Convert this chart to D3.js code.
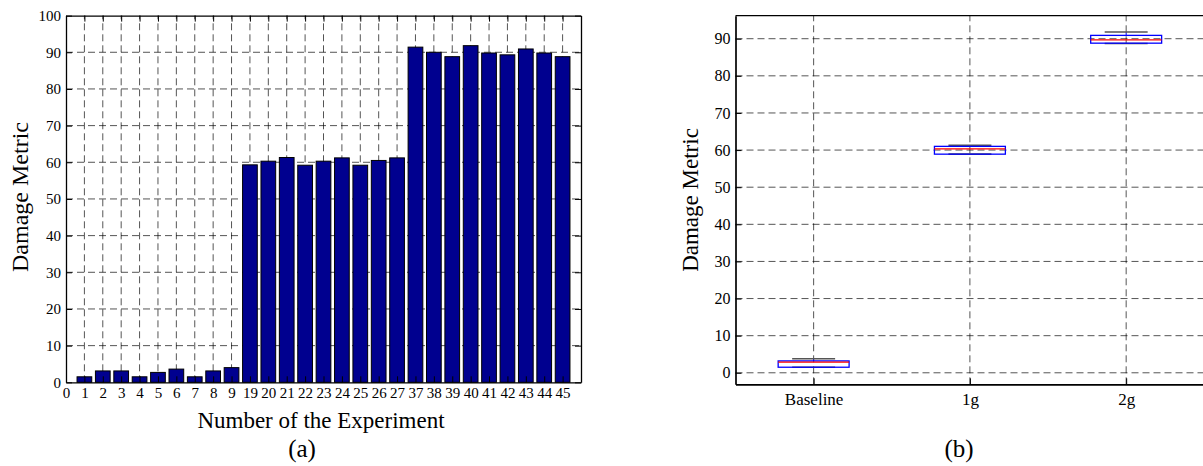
<!DOCTYPE html>
<html>
<head>
<meta charset="utf-8">
<script src="https://cdn.jsdelivr.net/npm/d3@7"></script>
<style>
  body { margin: 0; background: #fff; }
  svg text { font-family: "Liberation Serif", "Times New Roman", serif; fill: #000; }
</style>
</head>
<body>
<svg width="1203" height="466"></svg>
<script>
// (a) bar chart data
var experiments = ["1","2","3","4","5","6","7","8","9",
  "19","20","21","22","23","24","25","26","27",
  "37","38","39","40","41","42","43","44","45"];
var damage = [1.5, 3.1, 3.1, 1.5, 2.7, 3.6, 1.5, 3.1, 4.0,
  59.3, 60.3, 61.3, 59.2, 60.3, 61.2, 59.2, 60.5, 61.2,
  91.4, 90.0, 88.8, 91.8, 89.8, 89.3, 90.9, 89.8, 88.8];
var yTicksA = [0, 10, 20, 30, 40, 50, 60, 70, 80, 90, 100];

// (b) box plot data
var groups = ["Baseline", "1g", "2g"];
var whiskerLow = [1.5, 58.9, 88.7];
var q1 = [1.5, 58.9, 88.8];
var median = [2.9, 60.3, 89.7];
var q3 = [3.2, 61.0, 90.9];
var whiskerHigh = [3.8, 61.3, 91.8];
var yTicksB = [0, 10, 20, 30, 40, 50, 60, 70, 80, 90];

var svg = d3.select("svg");
var serif = "'Liberation Serif', 'Times New Roman', serif";

function styleTicks(size) {
  return function(g) {
    g.attr("font-family", serif);
    g.selectAll("text").style("font-family", serif).style("font-size", size);
  };
}

function dashed(sel) {
  sel.attr("stroke", "#000").attr("stroke-opacity", 0.75).attr("stroke-width", 0.9)
    .attr("stroke-dasharray", "7,4");
}

// ---------- (a) ----------
var xa = d3.scaleLinear().domain([0, 28]).range([66, 581]);
var ya = d3.scaleLinear().domain([0, 100]).range([382.3, 15.6]);
var ga = svg.append("g");

// grid
ga.selectAll(".hgrid").data(yTicksA.slice(1, -1)).enter().append("line")
  .attr("x1", xa(0)).attr("x2", xa(28))
  .attr("y1", function(d) { return ya(d); }).attr("y2", function(d) { return ya(d); })
  .call(dashed);
ga.selectAll(".vgrid").data(d3.range(1, 28)).enter().append("line")
  .attr("x1", function(d) { return xa(d); }).attr("x2", function(d) { return xa(d); })
  .attr("y1", ya(0)).attr("y2", ya(100))
  .call(dashed);

// bars
var bw = (xa(1) - xa(0)) * 0.8;
ga.selectAll(".bar").data(damage).enter().append("rect")
  .attr("x", function(d, i) { return xa(i + 1) - bw / 2; })
  .attr("y", function(d) { return ya(d); })
  .attr("width", bw)
  .attr("height", function(d) { return ya(0) - ya(d); })
  .attr("fill", "#00008f").attr("stroke", "#000").attr("stroke-width", 1);

// axes (ticks inward)
ga.append("g").attr("transform", "translate(" + xa(0) + ",0)")
  .call(d3.axisLeft(ya).tickValues(yTicksA).tickSizeInner(-6).tickSizeOuter(0).tickPadding(5))
  .call(styleTicks("15px"));
ga.append("g").attr("transform", "translate(" + xa(28) + ",0)")
  .call(d3.axisRight(ya).tickValues(yTicksA).tickSizeInner(-6).tickSizeOuter(0).tickFormat(""));
ga.append("g").attr("transform", "translate(0," + ya(0) + ")")
  .call(d3.axisBottom(xa).tickValues(d3.range(0, 28)).tickSizeInner(-6).tickSizeOuter(0).tickPadding(5)
    .tickFormat(function(d) { return d === 0 ? "0" : experiments[d - 1]; }))
  .call(styleTicks("15px"));
ga.append("g").attr("transform", "translate(0," + ya(100) + ")")
  .call(d3.axisTop(xa).tickValues(d3.range(0, 28)).tickSizeInner(-6).tickSizeOuter(0).tickFormat(""));
ga.selectAll(".domain").attr("stroke", "#000").attr("stroke-width", 1.3);

ga.append("text").attr("transform", "translate(28,197) rotate(-90)")
  .attr("text-anchor", "middle").style("font-size", "24px").text("Damage Metric");
ga.append("text").attr("x", 321).attr("y", 428)
  .attr("text-anchor", "middle").style("font-size", "23px").text("Number of the Experiment");
ga.append("text").attr("x", 302).attr("y", 457)
  .attr("text-anchor", "middle").style("font-size", "25px").text("(a)");

// ---------- (b) ----------
var xb = d3.scaleLinear().domain([0.5, 3.5]).range([735.5, 1204.3]);
var yb = d3.scaleLinear().domain([-3.1, 96.2]).range([384.3, 15.7]);
var gb = svg.append("g");

gb.selectAll(".hgrid").data(yTicksB).enter().append("line")
  .attr("x1", xb(0.5)).attr("x2", xb(3.5))
  .attr("y1", function(d) { return yb(d); }).attr("y2", function(d) { return yb(d); })
  .call(dashed);
gb.selectAll(".vgrid").data([1, 2, 3]).enter().append("line")
  .attr("x1", function(d) { return xb(d); }).attr("x2", function(d) { return xb(d); })
  .attr("y1", yb(-3.1)).attr("y2", yb(96.2))
  .call(dashed);

var boxHalf = 0.227, capHalf = 0.1375;
groups.forEach(function(name, i) {
  var c = i + 1;
  // whiskers
  gb.append("line").attr("x1", xb(c)).attr("x2", xb(c))
    .attr("y1", yb(q3[i])).attr("y2", yb(whiskerHigh[i]))
    .attr("stroke", "#0000ff").attr("stroke-width", 1).attr("stroke-dasharray", "4,2");
  gb.append("line").attr("x1", xb(c)).attr("x2", xb(c))
    .attr("y1", yb(q1[i])).attr("y2", yb(whiskerLow[i]))
    .attr("stroke", "#0000ff").attr("stroke-width", 1).attr("stroke-dasharray", "4,2");
  // caps
  [whiskerLow[i], whiskerHigh[i]].forEach(function(v) {
    gb.append("line").attr("x1", xb(c - capHalf)).attr("x2", xb(c + capHalf))
      .attr("y1", yb(v)).attr("y2", yb(v))
      .attr("stroke", "#555").attr("stroke-width", 1.6);
  });
  // box
  gb.append("rect").attr("x", xb(c - boxHalf)).attr("y", yb(q3[i]))
    .attr("width", xb(c + boxHalf) - xb(c - boxHalf))
    .attr("height", Math.max(yb(q1[i]) - yb(q3[i]), 1))
    .attr("fill", "none").attr("stroke", "#0000ff").attr("stroke-width", 1.3);
  // median
  gb.append("line").attr("x1", xb(c - boxHalf)).attr("x2", xb(c + boxHalf))
    .attr("y1", yb(median[i])).attr("y2", yb(median[i]))
    .attr("stroke", "#ff0000").attr("stroke-width", 1.3);
});

gb.append("g").attr("transform", "translate(" + xb(0.5) + ",0)")
  .call(d3.axisLeft(yb).tickValues(yTicksB).tickSizeInner(-6).tickSizeOuter(0).tickPadding(5))
  .call(styleTicks("16px"));
gb.append("g").attr("transform", "translate(0," + yb(-3.1) + ")")
  .call(d3.axisBottom(xb).tickValues([1, 2, 3]).tickSizeInner(-6).tickSizeOuter(0).tickPadding(9)
    .tickFormat(function(d) { return groups[d - 1]; }))
  .call(styleTicks("17px"));
gb.append("line").attr("x1", xb(0.5)).attr("x2", xb(3.5))
  .attr("y1", yb(96.2)).attr("y2", yb(96.2)).attr("stroke", "#000").attr("stroke-width", 1.3);
gb.selectAll(".domain").attr("stroke", "#000").attr("stroke-width", 1.7);

gb.append("text").attr("transform", "translate(698,200) rotate(-90)")
  .attr("text-anchor", "middle").style("font-size", "23px").text("Damage Metric");
gb.append("text").attr("x", 959).attr("y", 457)
  .attr("text-anchor", "middle").style("font-size", "25px").text("(b)");
</script>
</body>
</html>
